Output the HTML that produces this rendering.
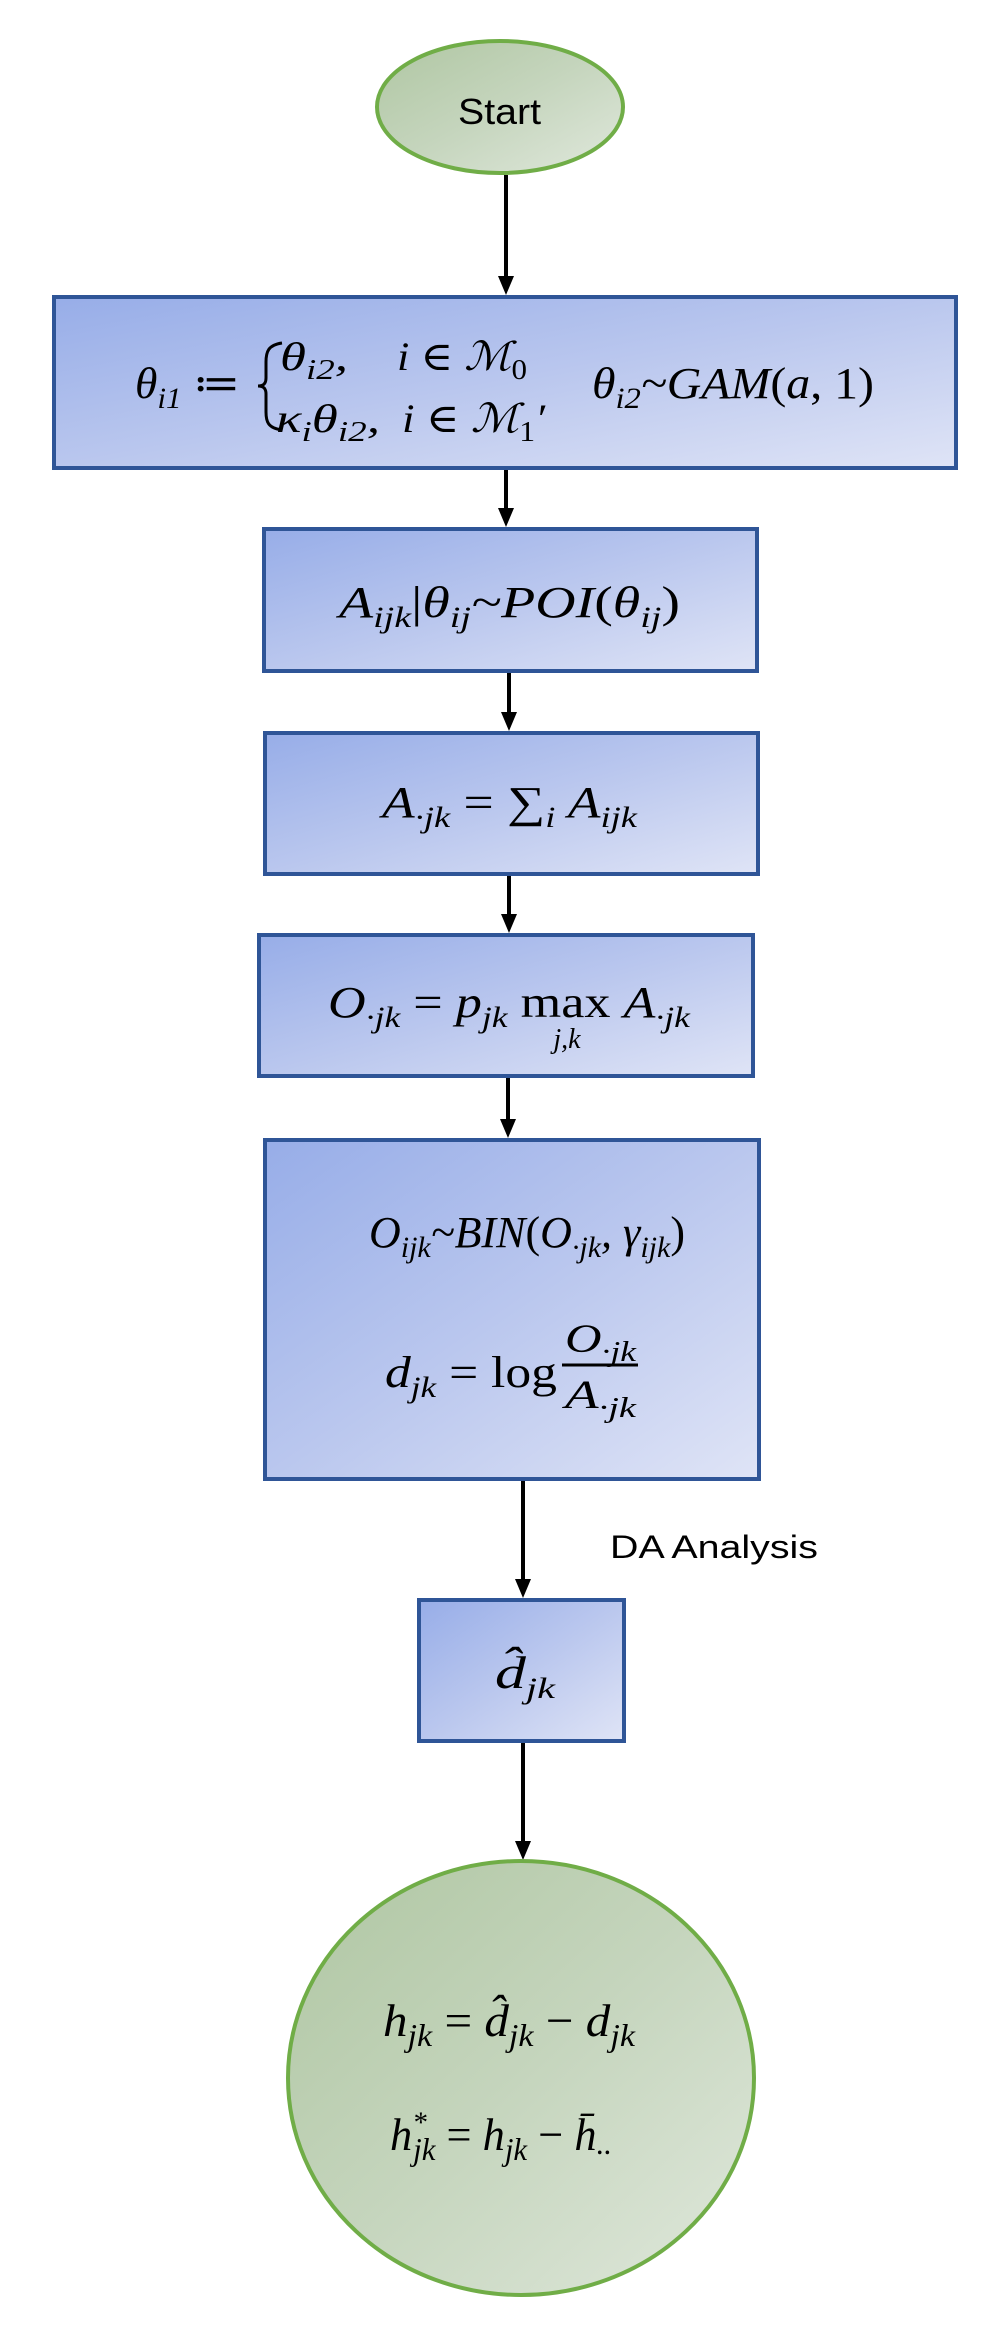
<!DOCTYPE html>
<html><head><meta charset="utf-8"><style>
html,body{margin:0;padding:0;background:#fff;}
svg{display:block;}
.m{font-family:"Liberation Serif","DejaVu Serif",serif;font-style:italic;fill:#000;}
.r{font-style:normal;}
</style></head><body>
<svg width="994" height="2327" viewBox="0 0 994 2327" xmlns="http://www.w3.org/2000/svg">
<defs>
<linearGradient id="gb" x1="0" y1="0" x2="1" y2="1"><stop offset="0" stop-color="#97ade8"/><stop offset="0.5" stop-color="#bac7ee"/><stop offset="1" stop-color="#dfe4f6"/></linearGradient>
<linearGradient id="gg" x1="0" y1="0" x2="1" y2="1"><stop offset="0" stop-color="#afc6a2"/><stop offset="0.5" stop-color="#c5d5bd"/><stop offset="1" stop-color="#e0e8dc"/></linearGradient>
</defs>
<g stroke="#000" stroke-width="4" fill="none">
<g><line x1="506" y1="175" x2="506" y2="278"/><path d="M498,276 L514,276 L506,295 z" fill="#000" stroke="none"/></g>
<g><line x1="506" y1="469" x2="506" y2="510"/><path d="M498,508 L514,508 L506,527 z" fill="#000" stroke="none"/></g>
<g><line x1="509" y1="672" x2="509" y2="714"/><path d="M501,712 L517,712 L509,731 z" fill="#000" stroke="none"/></g>
<g><line x1="509" y1="875" x2="509" y2="916"/><path d="M501,914 L517,914 L509,933 z" fill="#000" stroke="none"/></g>
<g><line x1="508" y1="1077" x2="508" y2="1121"/><path d="M500,1119 L516,1119 L508,1138 z" fill="#000" stroke="none"/></g>
<g><line x1="523" y1="1480" x2="523" y2="1581"/><path d="M515,1579 L531,1579 L523,1598 z" fill="#000" stroke="none"/></g>
<g><line x1="523" y1="1742" x2="523" y2="1843"/><path d="M515,1841 L531,1841 L523,1860 z" fill="#000" stroke="none"/></g>
</g>

<g>
<ellipse cx="500" cy="107" rx="123" ry="66" fill="url(#gg)" stroke="#70ad47" stroke-width="4"/>
<text x="458" y="124" font-family="Liberation Sans, sans-serif" font-size="36" textLength="83" lengthAdjust="spacingAndGlyphs">Start</text>
</g>

<g>
<rect x="54" y="297" width="902" height="171" fill="url(#gb)" stroke="#2f5597" stroke-width="4"/>
<text class="m" font-size="44" x="135" y="398" textLength="105" lengthAdjust="spacingAndGlyphs">θ<tspan font-size="30" dy="10">i1</tspan><tspan class="r" dy="-10"> ≔</tspan></text>
<path d="M282,343 C268,345 266,352 266,362 L266,378 C266,384 263,386 258,386 C263,386 266,388 266,394 L266,412 C266,422 268,428 282,430" stroke="#000" stroke-width="3" fill="none"/>
<text class="m" font-size="40" x="280" y="370" textLength="68" lengthAdjust="spacingAndGlyphs">θ<tspan font-size="28" dy="9">i2</tspan><tspan dy="-9">,</tspan></text>
<text class="m" font-size="40" x="397" y="370" textLength="130" lengthAdjust="spacingAndGlyphs">i <tspan class="r">∈</tspan> ℳ<tspan font-size="28" dy="9" class="r">0</tspan></text>
<text class="m" font-size="40" x="276" y="432" textLength="104" lengthAdjust="spacingAndGlyphs">κ<tspan font-size="28" dy="9">i</tspan><tspan dy="-9">θ</tspan><tspan font-size="28" dy="9">i2</tspan><tspan dy="-9">,</tspan></text>
<text class="m" font-size="40" x="402" y="432" textLength="143" lengthAdjust="spacingAndGlyphs">i <tspan class="r">∈</tspan> ℳ<tspan font-size="28" dy="9" class="r">1</tspan><tspan dy="-9">′</tspan></text>
<text class="m" font-size="44" x="592" y="398" textLength="282" lengthAdjust="spacingAndGlyphs">θ<tspan font-size="30" dy="10">i2</tspan><tspan dy="-10">~GAM</tspan><tspan class="r">(</tspan>a<tspan class="r">, 1)</tspan></text>
</g>

<g>
<rect x="264" y="529" width="493" height="142" fill="url(#gb)" stroke="#2f5597" stroke-width="4"/>
<text class="m" font-size="44" x="339" y="617" textLength="341" lengthAdjust="spacingAndGlyphs">A<tspan font-size="30" dy="10">ijk</tspan><tspan dy="-10" class="r">|</tspan>θ<tspan font-size="30" dy="10">ij</tspan><tspan dy="-10">~POI</tspan><tspan class="r">(</tspan>θ<tspan font-size="30" dy="10">ij</tspan><tspan dy="-10" class="r">)</tspan></text>
</g>

<g>
<rect x="265" y="733" width="493" height="141" fill="url(#gb)" stroke="#2f5597" stroke-width="4"/>
<text class="m" font-size="44" x="382" y="817" textLength="255" lengthAdjust="spacingAndGlyphs">A<tspan font-size="30" dy="10">·jk</tspan><tspan dy="-10" class="r"> = ∑</tspan><tspan font-size="30" dy="10">i</tspan><tspan dy="-10"> A</tspan><tspan font-size="30" dy="10">ijk</tspan></text>
</g>

<g>
<rect x="259" y="935" width="494" height="141" fill="url(#gb)" stroke="#2f5597" stroke-width="4"/>
<text class="m" font-size="44" x="328" y="1017" textLength="362" lengthAdjust="spacingAndGlyphs">O<tspan font-size="30" dy="10">·jk</tspan><tspan dy="-10" class="r"> = </tspan>p<tspan font-size="30" dy="10">jk</tspan><tspan dy="-10" class="r"> max </tspan>A<tspan font-size="30" dy="10">·jk</tspan></text>
<text class="m" font-size="28" x="567" y="1048" text-anchor="middle">j,k</text>
</g>

<g>
<rect x="265" y="1140" width="494" height="339" fill="url(#gb)" stroke="#2f5597" stroke-width="4"/>
<text class="m" font-size="44" x="369" y="1247" textLength="316" lengthAdjust="spacingAndGlyphs">O<tspan font-size="30" dy="10">ijk</tspan><tspan dy="-10">~BIN</tspan><tspan class="r">(</tspan>O<tspan font-size="30" dy="10">·jk</tspan><tspan dy="-10">, γ</tspan><tspan font-size="30" dy="10">ijk</tspan><tspan dy="-10" class="r">)</tspan></text>
<text class="m" font-size="44" x="385" y="1387" textLength="172" lengthAdjust="spacingAndGlyphs">d<tspan font-size="30" dy="10">jk</tspan><tspan dy="-10" class="r"> = log</tspan></text>
<text class="m" font-size="40" x="565" y="1352" textLength="71" lengthAdjust="spacingAndGlyphs">O<tspan font-size="28" dy="9">·jk</tspan></text>
<line x1="562" y1="1365" x2="638" y2="1365" stroke="#000" stroke-width="3"/>
<text class="m" font-size="40" x="565" y="1408" textLength="71" lengthAdjust="spacingAndGlyphs">A<tspan font-size="28" dy="9">·jk</tspan></text>
</g>

<text x="610" y="1558" font-family="Liberation Sans, sans-serif" font-size="32" textLength="208" lengthAdjust="spacingAndGlyphs">DA Analysis</text>

<g>
<rect x="419" y="1600" width="205" height="141" fill="url(#gb)" stroke="#2f5597" stroke-width="4"/>
<text class="m" font-size="46" x="495" y="1688" textLength="60" lengthAdjust="spacingAndGlyphs">d̂<tspan font-size="30" dy="10">jk</tspan></text>
</g>

<g>
<ellipse cx="521" cy="2078" rx="233" ry="217" fill="url(#gg)" stroke="#70ad47" stroke-width="4"/>
<text class="m" font-size="46" x="383" y="2036" textLength="252" lengthAdjust="spacingAndGlyphs">h<tspan font-size="32" dy="10">jk</tspan><tspan dy="-10" class="r"> = </tspan>d̂<tspan font-size="32" dy="10">jk</tspan><tspan dy="-10" class="r"> − </tspan>d<tspan font-size="32" dy="10">jk</tspan></text>
<text class="m" font-size="46" x="390" y="2150" textLength="222" lengthAdjust="spacingAndGlyphs">h<tspan font-size="30" dy="-18">*</tspan><tspan font-size="32" dx="-14" dy="28">jk</tspan><tspan dy="-10" class="r"> = </tspan>h<tspan font-size="32" dy="10">jk</tspan><tspan dy="-10" class="r"> − </tspan>h̄<tspan font-size="32" dy="4">..</tspan></text>
</g>
</svg>
</body></html>
